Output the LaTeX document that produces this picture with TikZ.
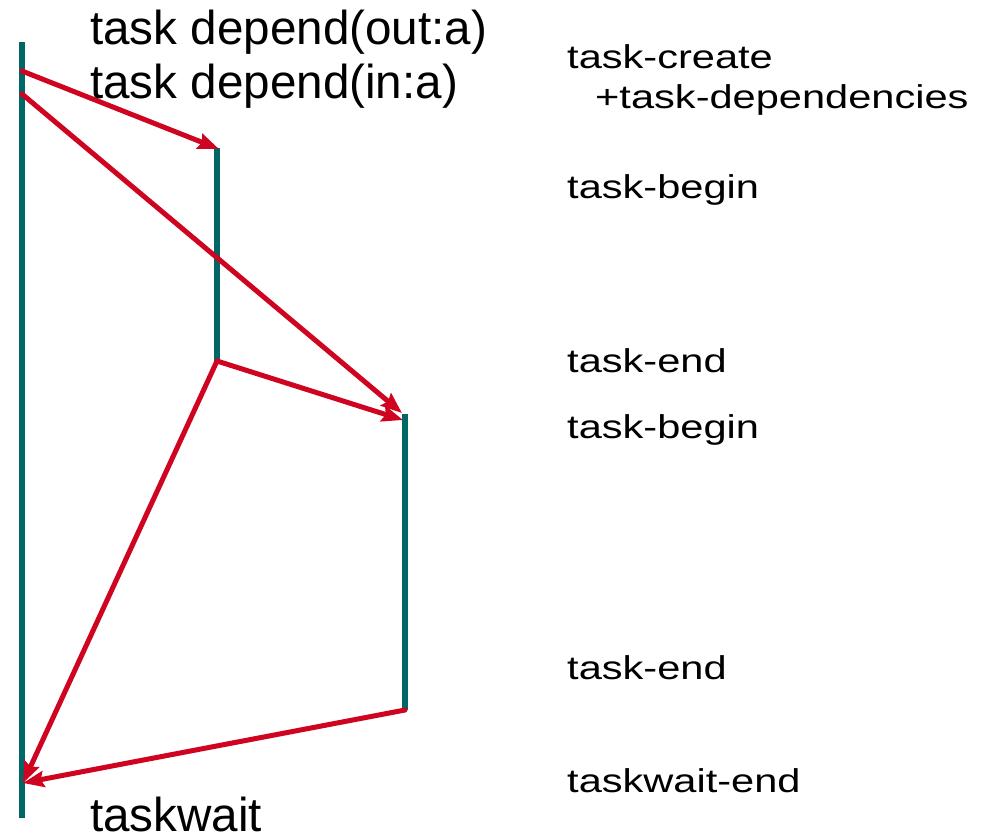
\documentclass[tikz,border=0pt]{standalone}
\usepackage{fontspec}
\setmainfont{Liberation Sans}
\usetikzlibrary{arrows.meta}
\definecolor{lifeline}{RGB}{0,102,102}
\definecolor{deparrow}{RGB}{206,4,32}
\begin{document}
\begin{tikzpicture}[x=1pt,y=-1pt,
  thread/.style={draw=lifeline,line width=6pt},
  dep/.style={draw=deparrow,line width=5pt,line cap=round,
    -{Stealth[length=21pt,width=16pt,inset=3pt]}},
  codelbl/.style={anchor=base west,inner sep=0pt,font=\fontsize{47.6}{50}\selectfont},
  evlbl/.style={anchor=base west,inner sep=0pt,font=\fontsize{33}{36}\selectfont}]
\useasboundingbox (0,0) rectangle (981,836);

% thread timelines
\coordinate (m0) at (22,42);
\coordinate (m1) at (22,818);
\coordinate (a0) at (217,148);
\coordinate (a1) at (217,361);
\coordinate (b0) at (405,414);
\coordinate (b1) at (405,710);
\draw[thread] (m0) -- (m1);
\draw[thread] (a0) -- (a1);
\draw[thread] (b0) -- (b1);

% events on the main thread
\coordinate (c1) at (22,71);
\coordinate (c2) at (22,94);
\coordinate (w) at (23,783);
\coordinate (atip) at (219,149);
\coordinate (btip1) at (402,413);
\coordinate (btip2) at (403,420);

% dependency arrows
\draw[dep] (c1) -- (atip);
\draw[dep] (c2) -- (btip1);
\draw[dep] (a1) -- (btip2);
\draw[dep] (a1) -- (w);
\draw[dep] (b1) -- (w);

% code labels
\node[codelbl] (out) at (90,44) {task depend(out:a)};
\node[codelbl] (in) at (90,98) {task depend(in:a)};
\node[codelbl] (tw) at (90,831) {taskwait};

% event labels
\node[evlbl] (e1) at (567,68) {\scalebox{1.26}[1]{task-create}};
\node[evlbl] (e2) at (595,108) {\scalebox{1.26}[1]{+task-dependencies}};
\node[evlbl] (e3) at (567,198) {\scalebox{1.26}[1]{task-begin}};
\node[evlbl] (e4) at (567,372) {\scalebox{1.26}[1]{task-end}};
\node[evlbl] (e5) at (567,438) {\scalebox{1.26}[1]{task-begin}};
\node[evlbl] (e6) at (567,679) {\scalebox{1.26}[1]{task-end}};
\node[evlbl] (e7) at (567,792) {\scalebox{1.26}[1]{taskwait-end}};
\end{tikzpicture}
\end{document}
